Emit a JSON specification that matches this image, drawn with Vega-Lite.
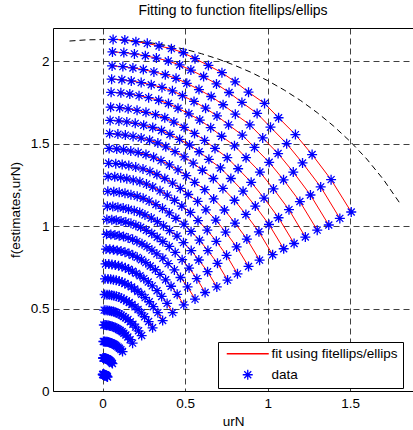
{
"$schema": "https://vega.github.io/schema/vega-lite/v6.json",
"width": 360, "height": 363,
"autosize": {"type": "none"},
"padding": {"left": 53, "top": 28, "right": 0, "bottom": 39},
"background": "white",
"title": {"text": "Fitting to function fitellips/ellips", "fontSize": 14, "fontWeight": "normal", "font": "Liberation Sans", "color": "#000", "offset": 10, "anchor": "middle"},
"datasets": {
"env": [
{"x":-0.2,"y":2.121},{"x":-0.1,"y":2.128},{"x":0,"y":2.13},{"x":0.1,"y":2.128},{"x":0.2,"y":2.121},{"x":0.3,"y":2.109},{"x":0.4,"y":2.092},{"x":0.5,"y":2.071},{"x":0.6,"y":2.044},{"x":0.7,"y":2.012},{"x":0.8,"y":1.974},{"x":0.9,"y":1.931},{"x":1.0,"y":1.881},{"x":1.1,"y":1.824},{"x":1.2,"y":1.76},{"x":1.3,"y":1.687},{"x":1.4,"y":1.605},{"x":1.5,"y":1.512},{"x":1.6,"y":1.406},{"x":1.7,"y":1.283},{"x":1.8,"y":1.139}
],
"arcs": [
{"a":1,"x":0.001,"y":0.1},{"a":1,"x":0.003,"y":0.1},{"a":1,"x":0.004,"y":0.1},{"a":1,"x":0.005,"y":0.1},{"a":1,"x":0.007,"y":0.099},{"a":1,"x":0.008,"y":0.099},{"a":1,"x":0.01,"y":0.099},{"a":1,"x":0.011,"y":0.098},{"a":1,"x":0.013,"y":0.098},{"a":1,"x":0.014,"y":0.097},{"a":1,"x":0.016,"y":0.096},{"a":1,"x":0.018,"y":0.096},{"a":1,"x":0.02,"y":0.095},{"a":1,"x":0.021,"y":0.093},{"a":1,"x":0.023,"y":0.092},{"a":1,"x":0.025,"y":0.09},{"a":1,"x":0.028,"y":0.088},{"a":1,"x":0.03,"y":0.085},
{"a":2,"x":0.003,"y":0.2},{"a":2,"x":0.005,"y":0.2},{"a":2,"x":0.008,"y":0.2},{"a":2,"x":0.011,"y":0.199},{"a":2,"x":0.014,"y":0.199},{"a":2,"x":0.017,"y":0.198},{"a":2,"x":0.02,"y":0.197},{"a":2,"x":0.022,"y":0.196},{"a":2,"x":0.026,"y":0.195},{"a":2,"x":0.029,"y":0.194},{"a":2,"x":0.032,"y":0.192},{"a":2,"x":0.035,"y":0.19},{"a":2,"x":0.039,"y":0.187},{"a":2,"x":0.043,"y":0.185},{"a":2,"x":0.047,"y":0.181},{"a":2,"x":0.051,"y":0.177},{"a":2,"x":0.055,"y":0.172},{"a":2,"x":0.06,"y":0.166},
{"a":3,"x":0.005,"y":0.3},{"a":3,"x":0.011,"y":0.3},{"a":3,"x":0.016,"y":0.299},{"a":3,"x":0.022,"y":0.299},{"a":3,"x":0.028,"y":0.298},{"a":3,"x":0.034,"y":0.297},{"a":3,"x":0.039,"y":0.295},{"a":3,"x":0.045,"y":0.293},{"a":3,"x":0.052,"y":0.291},{"a":3,"x":0.058,"y":0.288},{"a":3,"x":0.065,"y":0.285},{"a":3,"x":0.071,"y":0.282},{"a":3,"x":0.079,"y":0.277},{"a":3,"x":0.086,"y":0.272},{"a":3,"x":0.094,"y":0.266},{"a":3,"x":0.102,"y":0.259},{"a":3,"x":0.111,"y":0.251},{"a":3,"x":0.121,"y":0.239},
{"a":4,"x":0.008,"y":0.4},{"a":4,"x":0.016,"y":0.4},{"a":4,"x":0.024,"y":0.399},{"a":4,"x":0.033,"y":0.398},{"a":4,"x":0.041,"y":0.396},{"a":4,"x":0.05,"y":0.394},{"a":4,"x":0.059,"y":0.391},{"a":4,"x":0.068,"y":0.388},{"a":4,"x":0.078,"y":0.384},{"a":4,"x":0.087,"y":0.379},{"a":4,"x":0.097,"y":0.373},{"a":4,"x":0.107,"y":0.367},{"a":4,"x":0.119,"y":0.359},{"a":4,"x":0.129,"y":0.35},{"a":4,"x":0.141,"y":0.339},{"a":4,"x":0.153,"y":0.327},{"a":4,"x":0.167,"y":0.311},{"a":4,"x":0.182,"y":0.29},
{"a":5,"x":0.01,"y":0.49},{"a":5,"x":0.021,"y":0.489},{"a":5,"x":0.032,"y":0.488},{"a":5,"x":0.043,"y":0.487},{"a":5,"x":0.054,"y":0.484},{"a":5,"x":0.066,"y":0.482},{"a":5,"x":0.077,"y":0.478},{"a":5,"x":0.088,"y":0.473},{"a":5,"x":0.101,"y":0.467},{"a":5,"x":0.114,"y":0.46},{"a":5,"x":0.126,"y":0.452},{"a":5,"x":0.139,"y":0.443},{"a":5,"x":0.154,"y":0.433},{"a":5,"x":0.168,"y":0.42},{"a":5,"x":0.184,"y":0.405},{"a":5,"x":0.2,"y":0.387},{"a":5,"x":0.218,"y":0.365},{"a":5,"x":0.237,"y":0.336},
{"a":6,"x":0.013,"y":0.585},{"a":6,"x":0.027,"y":0.584},{"a":6,"x":0.041,"y":0.583},{"a":6,"x":0.055,"y":0.58},{"a":6,"x":0.069,"y":0.578},{"a":6,"x":0.084,"y":0.574},{"a":6,"x":0.099,"y":0.569},{"a":6,"x":0.113,"y":0.563},{"a":6,"x":0.129,"y":0.555},{"a":6,"x":0.145,"y":0.546},{"a":6,"x":0.162,"y":0.536},{"a":6,"x":0.178,"y":0.524},{"a":6,"x":0.197,"y":0.51},{"a":6,"x":0.215,"y":0.494},{"a":6,"x":0.235,"y":0.474},{"a":6,"x":0.255,"y":0.45},{"a":6,"x":0.279,"y":0.421},{"a":6,"x":0.303,"y":0.383},
{"a":7,"x":0.015,"y":0.68},{"a":7,"x":0.033,"y":0.679},{"a":7,"x":0.049,"y":0.677},{"a":7,"x":0.066,"y":0.674},{"a":7,"x":0.083,"y":0.671},{"a":7,"x":0.101,"y":0.666},{"a":7,"x":0.118,"y":0.66},{"a":7,"x":0.135,"y":0.652},{"a":7,"x":0.155,"y":0.643},{"a":7,"x":0.175,"y":0.631},{"a":7,"x":0.194,"y":0.618},{"a":7,"x":0.214,"y":0.603},{"a":7,"x":0.237,"y":0.586},{"a":7,"x":0.258,"y":0.566},{"a":7,"x":0.283,"y":0.541},{"a":7,"x":0.307,"y":0.511},{"a":7,"x":0.335,"y":0.475},{"a":7,"x":0.364,"y":0.427},
{"a":8,"x":0.018,"y":0.77},{"a":8,"x":0.038,"y":0.769},{"a":8,"x":0.057,"y":0.767},{"a":8,"x":0.077,"y":0.763},{"a":8,"x":0.097,"y":0.759},{"a":8,"x":0.118,"y":0.754},{"a":8,"x":0.138,"y":0.747},{"a":8,"x":0.158,"y":0.738},{"a":8,"x":0.181,"y":0.726},{"a":8,"x":0.204,"y":0.713},{"a":8,"x":0.227,"y":0.698},{"a":8,"x":0.25,"y":0.681},{"a":8,"x":0.277,"y":0.661},{"a":8,"x":0.301,"y":0.637},{"a":8,"x":0.33,"y":0.608},{"a":8,"x":0.358,"y":0.573},{"a":8,"x":0.391,"y":0.531},{"a":8,"x":0.425,"y":0.475},
{"a":9,"x":0.021,"y":0.86},{"a":9,"x":0.044,"y":0.859},{"a":9,"x":0.066,"y":0.856},{"a":9,"x":0.089,"y":0.852},{"a":9,"x":0.112,"y":0.848},{"a":9,"x":0.136,"y":0.841},{"a":9,"x":0.16,"y":0.834},{"a":9,"x":0.183,"y":0.823},{"a":9,"x":0.21,"y":0.81},{"a":9,"x":0.236,"y":0.795},{"a":9,"x":0.262,"y":0.778},{"a":9,"x":0.289,"y":0.758},{"a":9,"x":0.32,"y":0.735},{"a":9,"x":0.348,"y":0.707},{"a":9,"x":0.382,"y":0.674},{"a":9,"x":0.415,"y":0.635},{"a":9,"x":0.452,"y":0.586},{"a":9,"x":0.492,"y":0.522},
{"a":10,"x":0.024,"y":0.95},{"a":10,"x":0.05,"y":0.948},{"a":10,"x":0.075,"y":0.945},{"a":10,"x":0.101,"y":0.941},{"a":10,"x":0.127,"y":0.936},{"a":10,"x":0.155,"y":0.928},{"a":10,"x":0.182,"y":0.919},{"a":10,"x":0.208,"y":0.907},{"a":10,"x":0.239,"y":0.892},{"a":10,"x":0.269,"y":0.875},{"a":10,"x":0.299,"y":0.854},{"a":10,"x":0.329,"y":0.831},{"a":10,"x":0.365,"y":0.805},{"a":10,"x":0.397,"y":0.772},{"a":10,"x":0.435,"y":0.734},{"a":10,"x":0.472,"y":0.688},{"a":10,"x":0.515,"y":0.631},{"a":10,"x":0.56,"y":0.557},
{"a":11,"x":0.026,"y":1.04},{"a":11,"x":0.056,"y":1.038},{"a":11,"x":0.083,"y":1.035},{"a":11,"x":0.112,"y":1.03},{"a":11,"x":0.141,"y":1.024},{"a":11,"x":0.172,"y":1.016},{"a":11,"x":0.202,"y":1.005},{"a":11,"x":0.231,"y":0.992},{"a":11,"x":0.265,"y":0.974},{"a":11,"x":0.298,"y":0.955},{"a":11,"x":0.331,"y":0.932},{"a":11,"x":0.365,"y":0.906},{"a":11,"x":0.404,"y":0.876},{"a":11,"x":0.44,"y":0.84},{"a":11,"x":0.482,"y":0.796},{"a":11,"x":0.524,"y":0.745},{"a":11,"x":0.571,"y":0.681},{"a":11,"x":0.621,"y":0.597},
{"a":12,"x":0.029,"y":1.12},{"a":12,"x":0.062,"y":1.118},{"a":12,"x":0.093,"y":1.114},{"a":12,"x":0.125,"y":1.109},{"a":12,"x":0.157,"y":1.102},{"a":12,"x":0.192,"y":1.093},{"a":12,"x":0.225,"y":1.082},{"a":12,"x":0.257,"y":1.067},{"a":12,"x":0.295,"y":1.048},{"a":12,"x":0.332,"y":1.026},{"a":12,"x":0.369,"y":1.001},{"a":12,"x":0.406,"y":0.972},{"a":12,"x":0.451,"y":0.939},{"a":12,"x":0.49,"y":0.899},{"a":12,"x":0.537,"y":0.851},{"a":12,"x":0.583,"y":0.794},{"a":12,"x":0.636,"y":0.723},{"a":12,"x":0.692,"y":0.631},
{"a":13,"x":0.032,"y":1.21},{"a":13,"x":0.068,"y":1.208},{"a":13,"x":0.101,"y":1.204},{"a":13,"x":0.136,"y":1.198},{"a":13,"x":0.172,"y":1.19},{"a":13,"x":0.21,"y":1.18},{"a":13,"x":0.246,"y":1.168},{"a":13,"x":0.282,"y":1.151},{"a":13,"x":0.323,"y":1.13},{"a":13,"x":0.363,"y":1.107},{"a":13,"x":0.404,"y":1.079},{"a":13,"x":0.444,"y":1.047},{"a":13,"x":0.493,"y":1.011},{"a":13,"x":0.536,"y":0.967},{"a":13,"x":0.587,"y":0.914},{"a":13,"x":0.638,"y":0.851},{"a":13,"x":0.696,"y":0.774},{"a":13,"x":0.757,"y":0.672},
{"a":14,"x":0.034,"y":1.3},{"a":14,"x":0.074,"y":1.298},{"a":14,"x":0.11,"y":1.293},{"a":14,"x":0.147,"y":1.286},{"a":14,"x":0.186,"y":1.278},{"a":14,"x":0.226,"y":1.268},{"a":14,"x":0.266,"y":1.254},{"a":14,"x":0.304,"y":1.236},{"a":14,"x":0.348,"y":1.213},{"a":14,"x":0.392,"y":1.187},{"a":14,"x":0.436,"y":1.156},{"a":14,"x":0.48,"y":1.121},{"a":14,"x":0.532,"y":1.082},{"a":14,"x":0.578,"y":1.033},{"a":14,"x":0.634,"y":0.975},{"a":14,"x":0.689,"y":0.907},{"a":14,"x":0.751,"y":0.822},{"a":14,"x":0.817,"y":0.71},
{"a":15,"x":0.037,"y":1.38},{"a":15,"x":0.08,"y":1.378},{"a":15,"x":0.119,"y":1.373},{"a":15,"x":0.159,"y":1.366},{"a":15,"x":0.201,"y":1.357},{"a":15,"x":0.245,"y":1.346},{"a":15,"x":0.287,"y":1.331},{"a":15,"x":0.329,"y":1.312},{"a":15,"x":0.377,"y":1.288},{"a":15,"x":0.424,"y":1.26},{"a":15,"x":0.471,"y":1.228},{"a":15,"x":0.519,"y":1.191},{"a":15,"x":0.576,"y":1.149},{"a":15,"x":0.626,"y":1.098},{"a":15,"x":0.686,"y":1.036},{"a":15,"x":0.745,"y":0.963},{"a":15,"x":0.812,"y":0.873},{"a":15,"x":0.884,"y":0.755},
{"a":16,"x":0.04,"y":1.47},{"a":16,"x":0.086,"y":1.467},{"a":16,"x":0.127,"y":1.462},{"a":16,"x":0.171,"y":1.454},{"a":16,"x":0.216,"y":1.445},{"a":16,"x":0.263,"y":1.433},{"a":16,"x":0.309,"y":1.417},{"a":16,"x":0.354,"y":1.396},{"a":16,"x":0.405,"y":1.37},{"a":16,"x":0.457,"y":1.34},{"a":16,"x":0.507,"y":1.305},{"a":16,"x":0.558,"y":1.265},{"a":16,"x":0.619,"y":1.22},{"a":16,"x":0.673,"y":1.164},{"a":16,"x":0.738,"y":1.097},{"a":16,"x":0.802,"y":1.018},{"a":16,"x":0.874,"y":0.921},{"a":16,"x":0.951,"y":0.793},
{"a":17,"x":0.043,"y":1.56},{"a":17,"x":0.093,"y":1.557},{"a":17,"x":0.138,"y":1.551},{"a":17,"x":0.185,"y":1.543},{"a":17,"x":0.234,"y":1.533},{"a":17,"x":0.285,"y":1.52},{"a":17,"x":0.335,"y":1.503},{"a":17,"x":0.383,"y":1.48},{"a":17,"x":0.439,"y":1.451},{"a":17,"x":0.494,"y":1.419},{"a":17,"x":0.549,"y":1.381},{"a":17,"x":0.605,"y":1.338},{"a":17,"x":0.671,"y":1.288},{"a":17,"x":0.729,"y":1.228},{"a":17,"x":0.799,"y":1.156},{"a":17,"x":0.868,"y":1.07},{"a":17,"x":0.947,"y":0.965},{"a":17,"x":1.03,"y":0.826},
{"a":18,"x":0.046,"y":1.64},{"a":18,"x":0.099,"y":1.637},{"a":18,"x":0.147,"y":1.631},{"a":18,"x":0.198,"y":1.622},{"a":18,"x":0.249,"y":1.611},{"a":18,"x":0.304,"y":1.597},{"a":18,"x":0.357,"y":1.579},{"a":18,"x":0.408,"y":1.555},{"a":18,"x":0.467,"y":1.525},{"a":18,"x":0.527,"y":1.491},{"a":18,"x":0.585,"y":1.45},{"a":18,"x":0.644,"y":1.404},{"a":18,"x":0.714,"y":1.352},{"a":18,"x":0.777,"y":1.288},{"a":18,"x":0.851,"y":1.211},{"a":18,"x":0.925,"y":1.121},{"a":18,"x":1.008,"y":1.009},{"a":18,"x":1.097,"y":0.862},
{"a":19,"x":0.049,"y":1.72},{"a":19,"x":0.104,"y":1.717},{"a":19,"x":0.155,"y":1.71},{"a":19,"x":0.209,"y":1.701},{"a":19,"x":0.263,"y":1.689},{"a":19,"x":0.321,"y":1.675},{"a":19,"x":0.377,"y":1.656},{"a":19,"x":0.432,"y":1.63},{"a":19,"x":0.494,"y":1.598},{"a":19,"x":0.557,"y":1.561},{"a":19,"x":0.618,"y":1.519},{"a":19,"x":0.681,"y":1.47},{"a":19,"x":0.755,"y":1.414},{"a":19,"x":0.821,"y":1.347},{"a":19,"x":0.9,"y":1.265},{"a":19,"x":0.978,"y":1.169},{"a":19,"x":1.066,"y":1.05},{"a":19,"x":1.16,"y":0.894},
{"a":20,"x":0.052,"y":1.81},{"a":20,"x":0.111,"y":1.807},{"a":20,"x":0.165,"y":1.8},{"a":20,"x":0.221,"y":1.79},{"a":20,"x":0.279,"y":1.778},{"a":20,"x":0.34,"y":1.762},{"a":20,"x":0.399,"y":1.742},{"a":20,"x":0.457,"y":1.714},{"a":20,"x":0.523,"y":1.68},{"a":20,"x":0.589,"y":1.642},{"a":20,"x":0.655,"y":1.596},{"a":20,"x":0.721,"y":1.544},{"a":20,"x":0.799,"y":1.486},{"a":20,"x":0.869,"y":1.414},{"a":20,"x":0.953,"y":1.327},{"a":20,"x":1.035,"y":1.225},{"a":20,"x":1.129,"y":1.099},{"a":20,"x":1.228,"y":0.933},
{"a":21,"x":0.055,"y":1.89},{"a":21,"x":0.117,"y":1.886},{"a":21,"x":0.174,"y":1.879},{"a":21,"x":0.234,"y":1.869},{"a":21,"x":0.295,"y":1.856},{"a":21,"x":0.36,"y":1.84},{"a":21,"x":0.423,"y":1.819},{"a":21,"x":0.484,"y":1.79},{"a":21,"x":0.554,"y":1.755},{"a":21,"x":0.624,"y":1.714},{"a":21,"x":0.693,"y":1.667},{"a":21,"x":0.763,"y":1.613},{"a":21,"x":0.846,"y":1.551},{"a":21,"x":0.92,"y":1.476},{"a":21,"x":1.009,"y":1.386},{"a":21,"x":1.096,"y":1.28},{"a":21,"x":1.195,"y":1.148},{"a":21,"x":1.3,"y":0.975},
{"a":22,"x":0.058,"y":1.97},{"a":22,"x":0.123,"y":1.966},{"a":22,"x":0.184,"y":1.958},{"a":22,"x":0.247,"y":1.948},{"a":22,"x":0.311,"y":1.934},{"a":22,"x":0.38,"y":1.917},{"a":22,"x":0.445,"y":1.895},{"a":22,"x":0.51,"y":1.865},{"a":22,"x":0.584,"y":1.827},{"a":22,"x":0.658,"y":1.785},{"a":22,"x":0.73,"y":1.735},{"a":22,"x":0.804,"y":1.678},{"a":22,"x":0.892,"y":1.613},{"a":22,"x":0.97,"y":1.534},{"a":22,"x":1.063,"y":1.439},{"a":22,"x":1.155,"y":1.327},{"a":22,"x":1.259,"y":1.188},{"a":22,"x":1.37,"y":1.006},
{"a":23,"x":0.06,"y":2.055},{"a":23,"x":0.129,"y":2.051},{"a":23,"x":0.193,"y":2.043},{"a":23,"x":0.259,"y":2.032},{"a":23,"x":0.326,"y":2.018},{"a":23,"x":0.398,"y":2.0},{"a":23,"x":0.467,"y":1.976},{"a":23,"x":0.535,"y":1.945},{"a":23,"x":0.612,"y":1.906},{"a":23,"x":0.69,"y":1.861},{"a":23,"x":0.766,"y":1.809},{"a":23,"x":0.844,"y":1.749},{"a":23,"x":0.936,"y":1.682},{"a":23,"x":1.017,"y":1.599},{"a":23,"x":1.115,"y":1.499},{"a":23,"x":1.211,"y":1.382},{"a":23,"x":1.321,"y":1.237},{"a":23,"x":1.437,"y":1.046},
{"a":24,"x":0.064,"y":2.131},{"a":24,"x":0.135,"y":2.127},{"a":24,"x":0.202,"y":2.117},{"a":24,"x":0.271,"y":2.107},{"a":24,"x":0.342,"y":2.091},{"a":24,"x":0.417,"y":2.075},{"a":24,"x":0.489,"y":2.05},{"a":24,"x":0.56,"y":2.014},{"a":24,"x":0.641,"y":1.973},{"a":24,"x":0.723,"y":1.929},{"a":24,"x":0.803,"y":1.874},{"a":24,"x":0.884,"y":1.811},{"a":24,"x":0.981,"y":1.743},{"a":24,"x":1.066,"y":1.656},{"a":24,"x":1.168,"y":1.554},{"a":24,"x":1.269,"y":1.433},{"a":24,"x":1.384,"y":1.281},{"a":24,"x":1.506,"y":1.085}
]
},
"layer": [
{
"data": {"name": "env"},
"mark": {"type": "line", "color": "#000", "strokeWidth": 1, "strokeDash": [6, 4]},
"encoding": {
"x": {"field": "x", "type": "quantitative", "scale": {"domain": [-0.3, 1.88], "nice": false, "zero": false},
"axis": {"orient": "bottom", "values": [0, 0.5, 1, 1.5], "labelExpr": "'' + datum.value", "grid": true, "domain": true, "title": "urN", "labelPadding": 5, "titlePadding": 5}},
"y": {"field": "y", "type": "quantitative", "scale": {"domain": [0, 2.2], "nice": false, "zero": false},
"axis": {"orient": "left", "values": [0, 0.5, 1, 1.5, 2], "labelExpr": "'' + datum.value", "grid": true, "domain": true, "domainColor": "#000", "domainWidth": 1, "title": "f(estimates,urN)", "labelPadding": 4, "titlePadding": 8}}
}
},
{
"data": {"name": "arcs"},
"mark": {"type": "line", "strokeWidth": 1, "color": "#ff0000"},
"encoding": {
"x": {"field": "x", "type": "quantitative", "axis": {"orient": "top", "labels": false, "ticks": false, "grid": false, "title": null, "domain": true}},
"y": {"field": "y", "type": "quantitative", "axis": null},
"detail": {"field": "a", "type": "nominal"}
}
},
{
"data": {"name": "arcs"},
"mark": {"type": "point", "filled": false, "size": 100, "strokeWidth": 1.3, "opacity": 1},
"encoding": {
"x": {"field": "x", "type": "quantitative", "axis": null},
"y": {"field": "y", "type": "quantitative", "axis": null},
"shape": {"datum": "data", "type": "nominal", "scale": {"domain": ["fit using fitellips/ellips", "data"], "range": ["M-4.2,0L4.2,0", "M-1,0L1,0M0,-1L0,1M-0.7,-0.7L0.7,0.7M-0.7,0.7L0.7,-0.7"]},
"legend": {"orient": "none", "legendX": 165, "legendY": 314, "padding": 5, "strokeColor": "#000", "fillColor": "#fff", "title": null, "labelFontSize": 13.5, "labelColor": "#000", "symbolSize": 100, "symbolStrokeWidth": 1.3, "symbolOffset": 18, "labelOffset": 17, "rowPadding": 6}},
"color": {"datum": "data", "type": "nominal", "scale": {"domain": ["fit using fitellips/ellips", "data"], "range": ["#ff0000", "#0000ff"]},
"legend": {"orient": "none", "legendX": 165, "legendY": 314, "padding": 5, "strokeColor": "#000", "fillColor": "#fff", "title": null, "labelFontSize": 13.5, "labelColor": "#000", "symbolSize": 100, "symbolStrokeWidth": 1.3, "symbolOffset": 18, "labelOffset": 17, "rowPadding": 6}}
}
}
],
"resolve": {"axis": {"x": "independent", "y": "independent"}},
"config": {
"view": {"stroke": null},
"font": "Liberation Sans",
"axis": {"labelFontSize": 13.5, "titleFontSize": 13.5, "titleFontWeight": "normal", "labelColor": "#000", "titleColor": "#000", "domainColor": "#000", "domainWidth": 1, "domain": true, "ticks": false, "gridColor": "#000", "gridDash": [6, 4], "gridOpacity": 0.75, "gridWidth": 1},
"legend": {"labelFont": "Liberation Sans"}
}
}
